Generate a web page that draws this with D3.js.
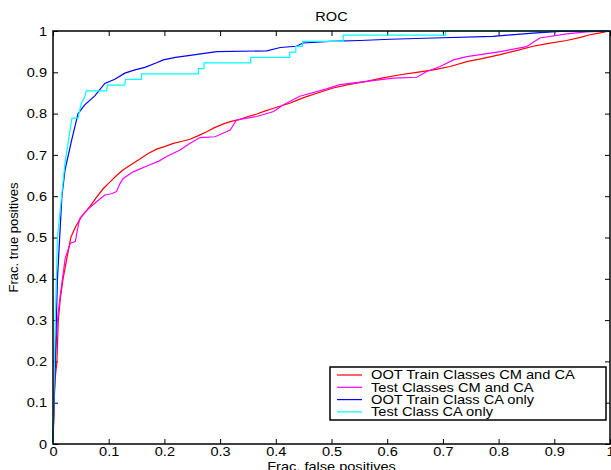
<!DOCTYPE html>
<html>
<head>
<meta charset="utf-8">
<script src="https://cdn.jsdelivr.net/npm/d3@7"></script>
<style>
  html, body { margin: 0; padding: 0; background: #fff; }
  svg { display: block; }
  text { font-family: "Liberation Sans", Arial, sans-serif; fill: #000; }
</style>
</head>
<body>
<svg id="chart" width="611" height="470"></svg>
<script>
const title = "ROC";
const xLabel = "Frac. false positives";
const yLabel = "Frac. true positives";
const tickValues = [0, 0.1, 0.2, 0.3, 0.4, 0.5, 0.6, 0.7, 0.8, 0.9, 1];
const tickLabels = ["0", "0.1", "0.2", "0.3", "0.4", "0.5", "0.6", "0.7", "0.8", "0.9", "1"];
const seriesNames = ["OOT Train Classes CM and CA", "Test Classes CM and CA", "OOT Train Class CA only", "Test Class CA only"];
const seriesColors = ["#ff0000", "#ff00ff", "#0000ff", "#00ffff"];

const trainCMCA = [[0,0],[0.002,0.1],[0.004,0.16],[0.007,0.2],[0.0095,0.3],[0.013,0.35],[0.018,0.4],[0.025,0.45],[0.032,0.5],[0.04,0.525],[0.051,0.55],[0.066,0.575],[0.078,0.597],[0.09,0.618],[0.102,0.634],[0.114,0.65],[0.126,0.664],[0.14,0.676],[0.156,0.69],[0.17,0.703],[0.186,0.714],[0.2,0.72],[0.216,0.728],[0.232,0.733],[0.246,0.738],[0.26,0.746],[0.276,0.756],[0.29,0.766],[0.306,0.775],[0.32,0.781],[0.336,0.786],[0.35,0.793],[0.366,0.799],[0.38,0.806],[0.396,0.813],[0.41,0.819],[0.425,0.825],[0.443,0.835],[0.455,0.841],[0.475,0.85],[0.503,0.862],[0.53,0.87],[0.563,0.878],[0.59,0.886],[0.623,0.894],[0.65,0.899],[0.683,0.906],[0.713,0.914],[0.743,0.926],[0.77,0.933],[0.803,0.943],[0.83,0.952],[0.862,0.963],[0.89,0.97],[0.922,0.977],[0.945,0.984],[0.964,0.991],[0.98,0.995],[1,1]];

const testCMCA = [[0,0],[0.002,0.12],[0.005,0.22],[0.008,0.3],[0.012,0.35],[0.017,0.4],[0.022,0.45],[0.031,0.486],[0.04,0.49],[0.044,0.52],[0.048,0.546],[0.06,0.565],[0.075,0.583],[0.093,0.603],[0.105,0.606],[0.114,0.611],[0.12,0.63],[0.126,0.643],[0.144,0.659],[0.174,0.676],[0.19,0.685],[0.204,0.696],[0.228,0.712],[0.246,0.728],[0.264,0.742],[0.291,0.744],[0.318,0.76],[0.33,0.785],[0.366,0.793],[0.396,0.805],[0.413,0.821],[0.443,0.842],[0.491,0.86],[0.515,0.87],[0.563,0.878],[0.611,0.886],[0.653,0.888],[0.671,0.902],[0.695,0.914],[0.719,0.93],[0.743,0.938],[0.803,0.95],[0.85,0.962],[0.874,0.983],[0.922,0.993],[0.958,0.998],[1,1]];

const trainCA = [[0,0],[0.002,0.1],[0.004,0.2],[0.006,0.3],[0.008,0.4],[0.012,0.5],[0.016,0.6],[0.0215,0.663],[0.0335,0.736],[0.045,0.8],[0.057,0.821],[0.075,0.843],[0.093,0.873],[0.111,0.883],[0.129,0.898],[0.147,0.906],[0.165,0.912],[0.186,0.923],[0.198,0.93],[0.22,0.936],[0.246,0.941],[0.294,0.95],[0.384,0.952],[0.408,0.96],[0.437,0.963],[0.449,0.971],[0.497,0.975],[0.551,0.977],[0.605,0.98],[0.683,0.983],[0.79,0.987],[0.862,0.995],[0.91,0.999],[1,1]];

const testCA = [[0,0],[0.004,0.3],[0.008,0.5],[0.0215,0.68],[0.034,0.789],[0.045,0.789],[0.048,0.809],[0.051,0.825],[0.057,0.841],[0.06,0.855],[0.096,0.855],[0.098,0.869],[0.129,0.869],[0.13,0.883],[0.159,0.883],[0.159,0.896],[0.261,0.896],[0.261,0.909],[0.271,0.909],[0.271,0.923],[0.355,0.923],[0.355,0.936],[0.425,0.936],[0.425,0.949],[0.436,0.949],[0.436,0.963],[0.448,0.963],[0.448,0.975],[0.521,0.975],[0.521,0.99],[0.705,0.99],[0.705,1],[1,1]];

const seriesData = [trainCMCA, testCMCA, trainCA, testCA];

const svg = d3.select("#chart");
const L = 53, R = 610, T = 31, B = 444;
const SX = 1.12; // horizontal text stretch seen in the reference
const x = d3.scaleLinear().domain([0, 1]).range([L, R]);
const y = d3.scaleLinear().domain([0, 1]).range([B, T]);

svg.append("rect").attr("x", L).attr("y", T).attr("width", R - L).attr("height", B - T).attr("fill", "#fff");

const fmt = (d) => tickLabels[tickValues.indexOf(d)];
const axB = svg.append("g").attr("transform", `translate(0,${B})`)
  .call(d3.axisBottom(x).tickValues(tickValues).tickFormat(fmt).tickSizeInner(-5).tickSizeOuter(0).tickPadding(3));
const axT = svg.append("g").attr("transform", `translate(0,${T})`)
  .call(d3.axisTop(x).tickValues(tickValues).tickFormat("").tickSizeInner(-5).tickSizeOuter(0));
const axL = svg.append("g").attr("transform", `translate(${L},0)`)
  .call(d3.axisLeft(y).tickValues(tickValues).tickFormat(fmt).tickSizeInner(-5).tickSizeOuter(0).tickPadding(5));
const axR = svg.append("g").attr("transform", `translate(${R},0)`)
  .call(d3.axisRight(y).tickValues(tickValues).tickFormat("").tickSizeInner(-5).tickSizeOuter(0));
[axB, axT, axL, axR].forEach(g => {
  g.select(".domain").remove();
  g.selectAll("line").attr("stroke", "#000");
  g.selectAll("text").style("font-size", "13px").attr("fill", "#000").attr("transform", `scale(${SX},1)`);
});
axL.selectAll("text").attr("x", -6 / SX);

const line = d3.line().x(d => x(d[0])).y(d => y(d[1]));
seriesData.forEach((data, i) => {
  svg.append("path").datum(data).attr("d", line)
    .attr("fill", "none").attr("stroke", seriesColors[i]).attr("stroke-width", 1.2);
});

svg.append("rect").attr("x", L).attr("y", T).attr("width", R - L).attr("height", B - T)
  .attr("fill", "none").attr("stroke", "#000").attr("stroke-width", 1.5);

svg.append("text").attr("transform", `translate(${(L + R) / 2},21) scale(${SX},1)`).attr("text-anchor", "middle")
  .style("font-size", "13px").text(title);
svg.append("text").attr("transform", `translate(${(L + R) / 2},471) scale(${SX},1)`).attr("text-anchor", "middle")
  .style("font-size", "13px").text(xLabel);
svg.append("text").attr("transform", `translate(18,${(T + B) / 2}) rotate(-90)`).attr("text-anchor", "middle")
  .style("font-size", "13px").text(yLabel);

const LSX = 1.22;
const lg = svg.append("g");
lg.append("rect").attr("x", 330).attr("y", 367).attr("width", 276).attr("height", 53)
  .attr("fill", "#fff").attr("stroke", "#000").attr("stroke-width", 1.5);
seriesNames.forEach((name, i) => {
  const yy = 375 + i * 12.3;
  lg.append("line").attr("x1", 337).attr("x2", 362).attr("y1", yy).attr("y2", yy)
    .attr("stroke", seriesColors[i]).attr("stroke-width", 1.2);
  lg.append("text").attr("transform", `translate(371,${yy}) scale(${LSX},1)`).attr("dy", "0.35em")
    .style("font-size", "12px").text(name);
});
</script>
</body>
</html>
